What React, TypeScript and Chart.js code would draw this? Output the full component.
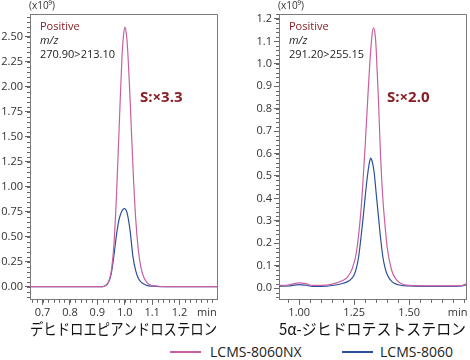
import React, { useEffect, useRef } from "react";
import { Chart, registerables } from "chart.js";

Chart.register(...registerables);

const PINK = "#c8609f";
const BLUE = "#2e4f9c";
const MAROON = "#8a1c24";
const FONT = "'Open Sans', 'Noto Sans CJK JP', sans-serif";
const JP_FONT = "'Noto Sans CJK JP', 'Open Sans', sans-serif";

// Left panel: DHEA
const dheaTitle = "デヒドロエピアンドロステロン";
const dheaTimeNX = [0.65, 0.9, 0.92, 0.93, 0.94, 0.95, 0.96, 0.97, 0.98, 0.99, 0.995, 1.0, 1.005, 1.01, 1.02, 1.03, 1.04, 1.05, 1.06, 1.07, 1.08, 1.09, 1.1, 1.12, 1.15, 1.34];
const dheaNX = [0, 0, 0.0, 0.01, 0.04, 0.14, 0.4, 0.92, 1.62, 2.3, 2.5, 2.6, 2.55, 2.4, 1.85, 1.2, 0.68, 0.36, 0.18, 0.09, 0.045, 0.02, 0.01, 0.003, 0, 0];
const dheaTime8060 = [0.65, 0.9, 0.92, 0.93, 0.94, 0.95, 0.96, 0.97, 0.98, 0.99, 1.0, 1.01, 1.02, 1.03, 1.04, 1.05, 1.06, 1.07, 1.08, 1.1, 1.13, 1.34];
const dhea8060 = [0, 0, 0, 0.01, 0.04, 0.12, 0.3, 0.52, 0.68, 0.76, 0.78, 0.72, 0.55, 0.3, 0.16, 0.08, 0.045, 0.025, 0.012, 0.004, 0, 0];
const dheaXTicks = [0.7, 0.8, 0.9, 1.0, 1.1, 1.2, 1.3];
const dheaYTicks = [0, 0.25, 0.5, 0.75, 1.0, 1.25, 1.5, 1.75, 2.0, 2.25, 2.5];
const dheaNotes = ["Positive", "m/z", "270.90>213.10"];
const dheaRatio = "S:×3.3";

// Right panel: 5α-DHT
const dhtTitle = "5α-ジヒドロテストステロン";
const dhtTimeNX = [0.9, 0.95, 1.0, 1.03, 1.06, 1.1, 1.15, 1.2, 1.22, 1.24, 1.26, 1.28, 1.29, 1.3, 1.31, 1.32, 1.33, 1.337, 1.345, 1.35, 1.36, 1.37, 1.38, 1.39, 1.4, 1.42, 1.44, 1.46, 1.5, 1.6, 1.7, 1.74, 1.76];
const dhtNX = [0.012, 0.014, 0.024, 0.02, 0.012, 0.012, 0.018, 0.035, 0.05, 0.085, 0.16, 0.34, 0.48, 0.64, 0.82, 0.99, 1.12, 1.16, 1.13, 1.06, 0.84, 0.58, 0.4, 0.28, 0.18, 0.08, 0.04, 0.022, 0.012, 0.01, 0.01, 0.012, 0.02];
const dhtTime8060 = [0.9, 0.95, 1.0, 1.03, 1.06, 1.1, 1.15, 1.2, 1.23, 1.25, 1.26, 1.27, 1.28, 1.29, 1.3, 1.31, 1.32, 1.325, 1.33, 1.34, 1.35, 1.36, 1.37, 1.38, 1.39, 1.4, 1.42, 1.45, 1.5, 1.6, 1.7, 1.74, 1.76];
const dht8060 = [0.008, 0.01, 0.016, 0.013, 0.008, 0.008, 0.012, 0.022, 0.035, 0.06, 0.09, 0.14, 0.22, 0.31, 0.41, 0.5, 0.565, 0.58, 0.57, 0.52, 0.42, 0.32, 0.22, 0.14, 0.09, 0.06, 0.03, 0.015, 0.01, 0.008, 0.008, 0.01, 0.015];
const dhtXTicks = [1.0, 1.25, 1.5, 1.72];
const dhtYTicks = [0, 0.1, 0.2, 0.3, 0.4, 0.5, 0.6, 0.7, 0.8, 0.9, 1.0, 1.1, 1.2];
const dhtNotes = ["Positive", "m/z", "291.20>255.15"];
const dhtRatio = "S:×2.0";

const seriesNames = ["LCMS-8060NX", "LCMS-8060"];

type Panel = {
  title: string;
  tNX: number[]; vNX: number[]; t8060: number[]; v8060: number[];
  xMin: number; xMax: number; yMin: number; yMax: number;
  xTicks: number[]; yTicks: number[]; minAt: number;
  xMinor: number; yMinor: number; yDec: number; xDec: number;
  yWidth: number; padRight: number;
  notes: string[]; ratio: string; ratioX: number;
};

const panels: Panel[] = [
  {
    title: dheaTitle, tNX: dheaTimeNX, vNX: dheaNX, t8060: dheaTime8060, v8060: dhea8060,
    xMin: 0.654, xMax: 1.337, yMin: -0.133, yMax: 2.73,
    xTicks: dheaXTicks, yTicks: dheaYTicks, minAt: 1.3,
    xMinor: 0.02, yMinor: 0.05, yDec: 2, xDec: 1,
    yWidth: 30, padRight: 18,
    notes: dheaNotes, ratio: dheaRatio, ratioX: 110,
  },
  {
    title: dhtTitle, tNX: dhtTimeNX, vNX: dhtNX, t8060: dhtTime8060, v8060: dht8060,
    xMin: 0.908, xMax: 1.758, yMin: -0.052, yMax: 1.222,
    xTicks: dhtXTicks, yTicks: dhtYTicks, minAt: 1.72,
    xMinor: 0.05, yMinor: 0.02, yDec: 1, xDec: 2,
    yWidth: 44, padRight: 4,
    notes: dhtNotes, ratio: dhtRatio, ratioX: 108,
  },
];

function makePlugin(p: Panel) {
  return {
    id: "deco",
    afterDraw(chart: any) {
      const ctx = chart.ctx;
      const a = chart.chartArea;
      const xs = chart.scales.x;
      const ys = chart.scales.y;
      ctx.save();
      // frame top and right
      ctx.strokeStyle = "#7a7a7a";
      ctx.lineWidth = 1;
      ctx.beginPath();
      ctx.moveTo(a.left, a.top + 0.5);
      ctx.lineTo(a.right + 0.5, a.top + 0.5);
      ctx.lineTo(a.right + 0.5, a.bottom);
      ctx.stroke();
      // minor ticks
      ctx.strokeStyle = "#666";
      ctx.beginPath();
      const nx = Math.round((p.xMax - p.xMin) / p.xMinor) + 2;
      const x0 = Math.ceil(p.xMin / p.xMinor) * p.xMinor;
      for (let i = 0; i < nx; i++) {
        const v = x0 + i * p.xMinor;
        if (v > p.xMax) break;
        const px = Math.round(xs.getPixelForValue(v)) + 0.5;
        ctx.moveTo(px, a.bottom);
        ctx.lineTo(px, a.bottom + 3);
      }
      const ny = Math.round((p.yMax - p.yMin) / p.yMinor) + 2;
      const y0 = Math.ceil(p.yMin / p.yMinor) * p.yMinor;
      for (let i = 0; i < ny; i++) {
        const v = y0 + i * p.yMinor;
        if (v > p.yMax) break;
        const py = Math.round(ys.getPixelForValue(v)) + 0.5;
        ctx.moveTo(a.left, py);
        ctx.lineTo(a.left - 3, py);
      }
      ctx.stroke();
      // exponent label
      ctx.fillStyle = "#333";
      ctx.font = `10px ${FONT}`;
      ctx.textAlign = "left";
      ctx.textBaseline = "middle";
      ctx.fillText("(x10⁹)", a.left - 1, 6);
      // notes
      ctx.font = `11px ${FONT}`;
      ctx.fillStyle = MAROON;
      ctx.fillText(p.notes[0], a.left + 10, a.top + 13);
      ctx.fillStyle = "#222";
      ctx.font = `italic 11px ${FONT}`;
      ctx.fillText(p.notes[1], a.left + 10, a.top + 27);
      ctx.font = `11px ${FONT}`;
      ctx.fillText(p.notes[2], a.left + 10, a.top + 41);
      // ratio
      ctx.font = `bold 15px ${FONT}`;
      ctx.fillStyle = MAROON;
      ctx.fillText(p.ratio, a.left + p.ratioX, a.top + 84);
      ctx.restore();
    },
  };
}

function makeConfig(p: Panel): any {
  return {
    type: "line",
    data: {
      datasets: [
        {
          label: seriesNames[0],
          data: p.tNX.map((x, i) => ({ x, y: p.vNX[i] })),
          borderColor: PINK,
          borderWidth: 1.2,
          pointRadius: 0,
          cubicInterpolationMode: "monotone",
          fill: false,
        },
        {
          label: seriesNames[1],
          data: p.t8060.map((x, i) => ({ x, y: p.v8060[i] })),
          borderColor: BLUE,
          borderWidth: 1.2,
          pointRadius: 0,
          cubicInterpolationMode: "monotone",
          fill: false,
        },
      ],
    },
    options: {
      animation: false,
      responsive: false,
      devicePixelRatio: 1,
      layout: { padding: { top: 14, right: p.padRight, left: 0, bottom: 0 } },
      plugins: {
        legend: { display: false },
        tooltip: { enabled: false },
        title: {
          display: true,
          position: "bottom",
          fullSize: false,
          text: p.title,
          color: "#111",
          font: { family: JP_FONT, size: 15.8, weight: "normal", lineHeight: 1.15 },
          padding: { top: 0, bottom: 4 },
        },
      },
      scales: {
        x: {
          type: "linear",
          min: p.xMin,
          max: p.xMax,
          afterBuildTicks: (s: any) => {
            s.ticks = p.xTicks.map((v) => ({ value: v }));
          },
          afterFit: (s: any) => {
            s.height = 20;
          },
          ticks: {
            autoSkip: false,
            maxRotation: 0,
            padding: 1,
            color: "#333",
            font: { family: FONT, size: 11 },
            callback: (v: number) => (Math.abs(v - p.minAt) < 1e-6 ? "min" : v.toFixed(p.xDec)),
          },
          grid: {
            drawOnChartArea: false,
            drawTicks: true,
            tickLength: 5,
            tickColor: (c: any) => (c.tick && Math.abs(c.tick.value - p.minAt) < 1e-6 ? "rgba(0,0,0,0)" : "#666"),
          },
          border: { display: true, color: "#7a7a7a" },
        },
        y: {
          type: "linear",
          min: p.yMin,
          max: p.yMax,
          afterBuildTicks: (s: any) => {
            s.ticks = p.yTicks.map((v) => ({ value: v }));
          },
          afterFit: (s: any) => {
            s.width = p.yWidth;
          },
          ticks: {
            autoSkip: false,
            padding: 2,
            color: "#333",
            font: { family: FONT, size: 11 },
            callback: (v: number) => v.toFixed(p.yDec),
          },
          grid: {
            drawOnChartArea: false,
            drawTicks: true,
            tickLength: 5,
            tickColor: "#666",
          },
          border: { display: true, color: "#7a7a7a" },
        },
      },
    },
    plugins: [makePlugin(p)],
  };
}

function PanelChart({ p, left }: { p: Panel; left: number }) {
  const ref = useRef<HTMLCanvasElement | null>(null);
  useEffect(() => {
    if (!ref.current) return;
    const chart = new Chart(ref.current, makeConfig(p));
    return () => chart.destroy();
  }, [p]);
  return (
    <canvas
      ref={ref}
      width={235}
      height={342}
      style={{ position: "absolute", left, top: 0, width: 235, height: 342 }}
    />
  );
}

export default function App() {
  const legendItems = [
    { name: seriesNames[0], color: PINK, lineLeft: 170, textLeft: 210 },
    { name: seriesNames[1], color: BLUE, lineLeft: 342, textLeft: 380 },
  ];
  return (
    <div
      style={{
        position: "absolute",
        left: 0,
        top: 0,
        width: 470,
        height: 360,
        background: "#fff",
        overflow: "hidden",
      }}
    >
      <PanelChart p={panels[0]} left={0} />
      <PanelChart p={panels[1]} left={235} />
      {legendItems.map((it) => (
        <React.Fragment key={it.name}>
          <div
            style={{
              position: "absolute",
              left: it.lineLeft,
              top: 351,
              width: 31,
              height: 2,
              background: it.color,
            }}
          />
          <div
            style={{
              position: "absolute",
              left: it.textLeft,
              top: 342,
              height: 20,
              lineHeight: "20px",
              fontFamily: FONT,
              fontSize: 14,
              color: "#222",
              whiteSpace: "nowrap",
            }}
          >
            {it.name}
          </div>
        </React.Fragment>
      ))}
    </div>
  );
}
